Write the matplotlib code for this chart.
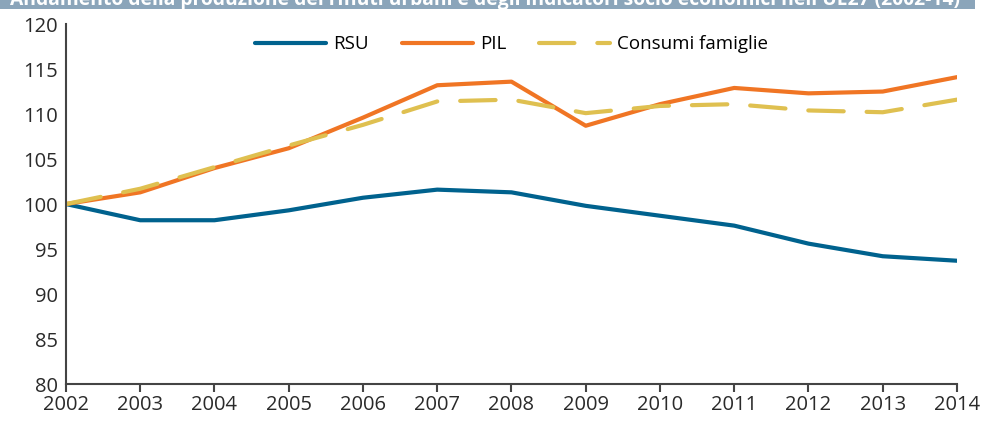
import matplotlib.pyplot as plt
from matplotlib.patches import Rectangle

years = [2002, 2003, 2004, 2005, 2006, 2007, 2008, 2009, 2010, 2011, 2012, 2013, 2014]
rsu = [100, 98.2, 98.2, 99.3, 100.7, 101.6, 101.3, 99.8, 98.7, 97.6, 95.6, 94.2, 93.7]
pil = [100, 101.3, 104.0, 106.2, 109.6, 113.2, 113.6, 108.7, 111.1, 112.9, 112.3, 112.5, 114.1]
consumi = [100, 101.7, 104.1, 106.5, 108.8, 111.4, 111.6, 110.1, 110.9, 111.1, 110.4, 110.2, 111.6]
title = "Andamento della produzione dei rifiuti urbani e degli indicatori socio economici nell'UE27 (2002-14)"

plt.rcParams['font.family'] = ['Open Sans', 'DejaVu Sans']

fig = plt.figure(figsize=(9.82, 4.22), dpi=100)
ax = fig.add_axes([0.0672, 0.090, 0.9073, 0.853])

# title band, cut off at the top like the source image
fig.patches.append(Rectangle((0, 1 - 9 / 422), 0.993, 9 / 422, transform=fig.transFigure,
                             facecolor='#8ba5ba', edgecolor='none'))
fig.text(0.010, 1 - 5 / 422, title, color='white', fontsize=13.9, fontweight='bold',
         va='baseline', ha='left')

ax.plot(years, rsu, color='#00628e', lw=3, solid_capstyle='round', label='RSU')
ax.plot(years, pil, color='#f07524', lw=3, solid_capstyle='round', label='PIL')
ax.plot(years, consumi, color='#dfc050', lw=3, dashes=(8.5, 5.5), dash_capstyle='round',
        label='Consumi famiglie')

ax.set_xlim(2002, 2014)
ax.set_ylim(80, 120)
ax.set_xticks(years)
ax.set_yticks(range(80, 121, 5))
for s in ['top', 'right']:
    ax.spines[s].set_visible(False)
for s in ['left', 'bottom']:
    ax.spines[s].set_color('#444444')
    ax.spines[s].set_linewidth(1.5)
ax.tick_params(axis='x', length=6, width=1.5, color='#444444', labelsize=14.5, pad=2,
               labelcolor='#2a2a2a')
ax.tick_params(axis='y', length=0, labelsize=14.5, pad=6, labelcolor='#2a2a2a')

ax.legend(loc='upper center', bbox_to_anchor=(0.5, 1.0), ncol=3, frameon=False,
          fontsize=13.5, handlelength=3.8, columnspacing=1.75, handletextpad=0.37,
          borderaxespad=0.2)

fig.savefig('out.png', dpi=100)
